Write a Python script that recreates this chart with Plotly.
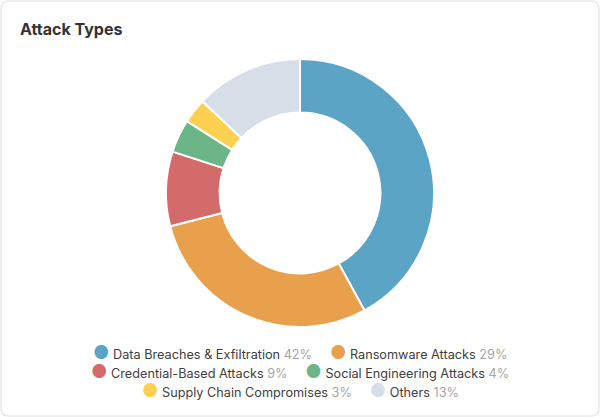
import plotly.graph_objects as go

W, H = 600, 417

categories = ['Data Breaches & Exfiltration', 'Ransomware Attacks', 'Credential-Based Attacks',
              'Social Engineering Attacks', 'Supply Chain Compromises', 'Others']
values = [42, 29, 9, 4, 3, 13]
colors = ['#5BA4C5', '#E8A04D', '#D26B69', '#6BB586', '#FCD050', '#D6DFE7']

# which legend entries go on which row
legend_rows = [[0, 1], [2, 3], [4, 5]]
legend_row_y = [352, 371, 390]

FONT = 'Inter, Roboto, sans-serif'

fig = go.Figure()
fig.add_trace(go.Pie(
    labels=categories,
    values=values,
    marker=dict(colors=colors, line=dict(color='white', width=2)),
    hole=0.6,
    sort=False,
    direction='clockwise',
    textinfo='none',
    hoverinfo='label+percent',
    showlegend=False,
    domain=dict(x=[166 / W, 434 / W], y=[1 - 327 / H, 1 - 59 / H]),
))

# card outline with rounded corners, paper coords
r = 8
x0, x1, y0, y1 = 1 / W, (W - 1) / W, 1 / H, (H - 1) / H
rx, ry = r / W, r / H
card = (f'M {x0 + rx},{y1} L {x1 - rx},{y1} Q {x1},{y1} {x1},{y1 - ry} '
        f'L {x1},{y0 + ry} Q {x1},{y0} {x1 - rx},{y0} '
        f'L {x0 + rx},{y0} Q {x0},{y0} {x0},{y0 + ry} '
        f'L {x0},{y1 - ry} Q {x0},{y1} {x0 + rx},{y1} Z')

annotations = [dict(
    text='<b>Attack Types</b>', x=18 / W, y=1 - 29 / H, xref='paper', yref='paper',
    xanchor='left', yanchor='middle', showarrow=False,
    font=dict(family=FONT, size=16, color='#333333'),
)]

for row, ypx in zip(legend_rows, legend_row_y):
    parts = []
    for i in row:
        parts.append(f"<span style='color:{colors[i]};font-size:18px'>●</span> "
                     f"{categories[i]} <span style='color:#A6A6A6'>{values[i]}%</span>")
    annotations.append(dict(
        text='     '.join(parts), x=0.5, y=1 - ypx / H, xref='paper', yref='paper',
        xanchor='center', yanchor='middle', showarrow=False,
        font=dict(family=FONT, size=12.7, color='#404040'),
    ))

fig.update_layout(
    width=W, height=H,
    margin=dict(l=0, r=0, t=0, b=0),
    paper_bgcolor='white',
    plot_bgcolor='white',
    shapes=[dict(type='path', path=card, xref='paper', yref='paper',
                 line=dict(color='#E2E2E2', width=1.2), fillcolor='rgba(0,0,0,0)', layer='below')],
    annotations=annotations,
)

# body has a default 8px margin; drop it so the card sits flush with the window
fig.write_html('out.html', config={'displayModeBar': False},
               post_script="document.body.style.margin='0';")
